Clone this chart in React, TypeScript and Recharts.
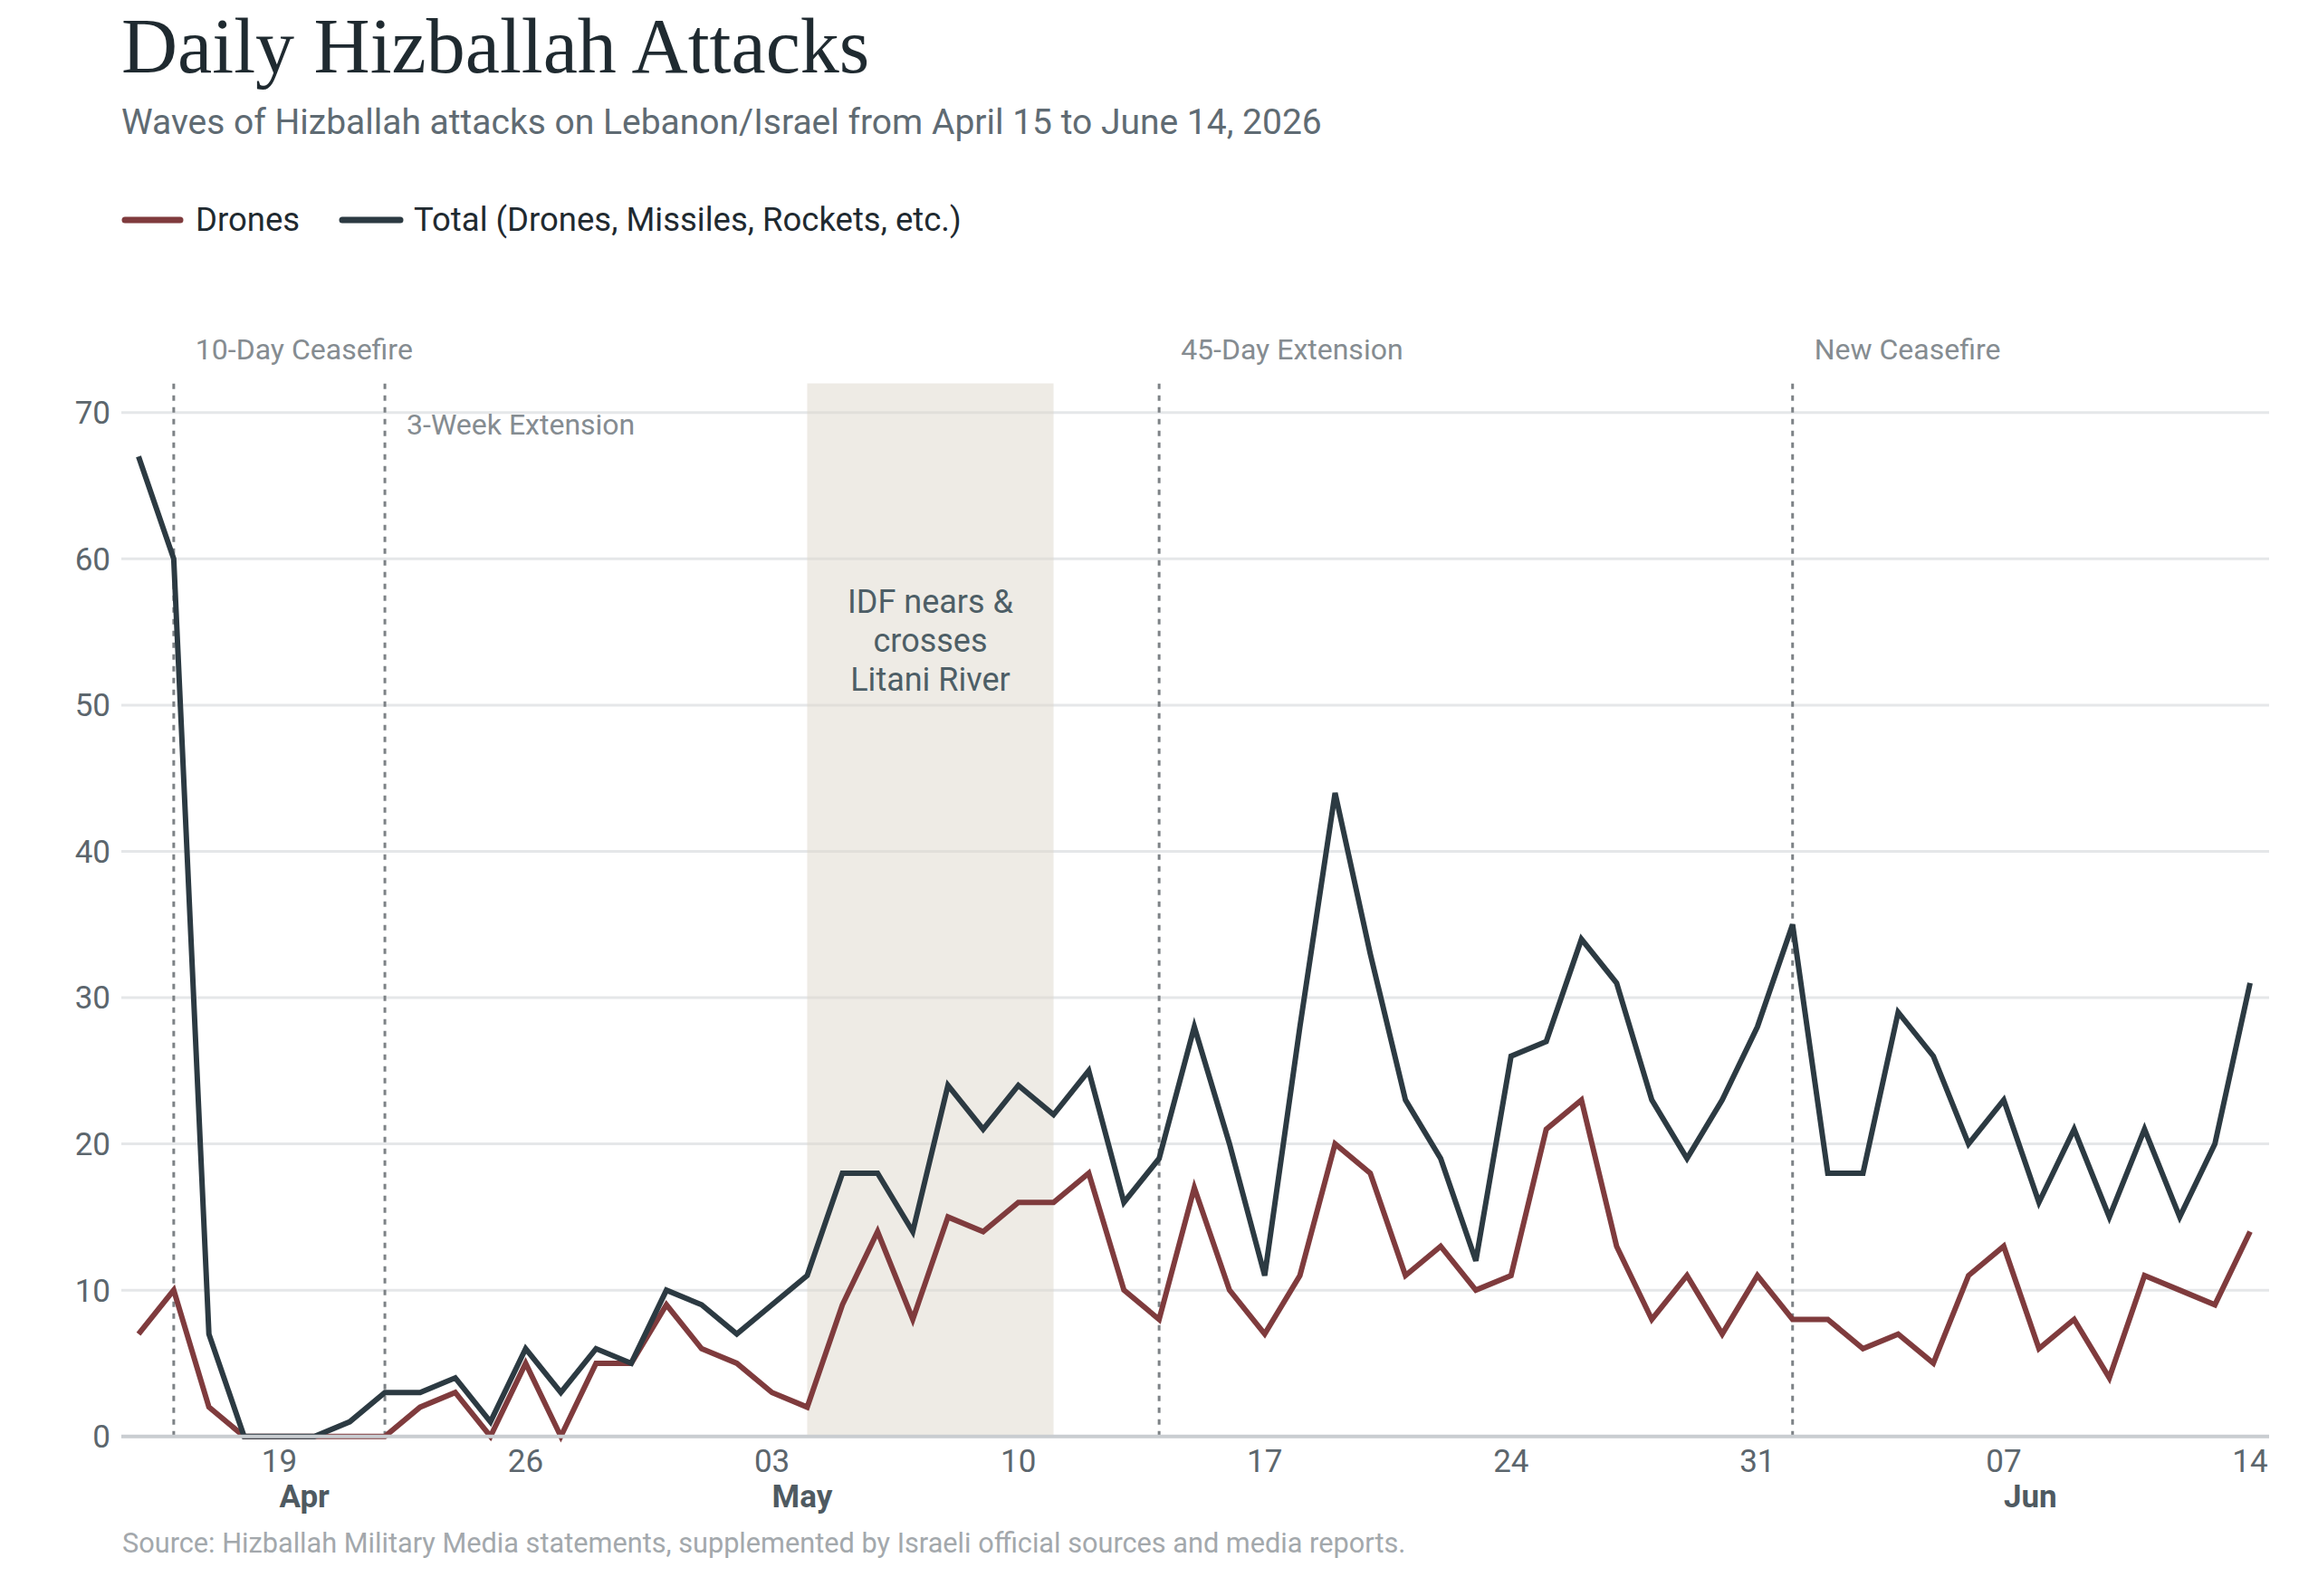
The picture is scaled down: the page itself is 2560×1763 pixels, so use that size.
import React from "react";
import {
  LineChart,
  Line,
  XAxis,
  YAxis,
  CartesianGrid,
  ReferenceLine,
  ReferenceArea,
} from "recharts";

// days from Apr 15 to Jun 14, 2026 (MM-DD)
const dates = [
  "04-15", "04-16", "04-17", "04-18", "04-19", "04-20", "04-21", "04-22",
  "04-23", "04-24", "04-25", "04-26", "04-27", "04-28", "04-29", "04-30",
  "05-01", "05-02", "05-03", "05-04", "05-05", "05-06", "05-07", "05-08",
  "05-09", "05-10", "05-11", "05-12", "05-13", "05-14", "05-15", "05-16",
  "05-17", "05-18", "05-19", "05-20", "05-21", "05-22", "05-23", "05-24",
  "05-25", "05-26", "05-27", "05-28", "05-29", "05-30", "05-31",
  "06-01", "06-02", "06-03", "06-04", "06-05", "06-06", "06-07", "06-08",
  "06-09", "06-10", "06-11", "06-12", "06-13", "06-14",
];

const drones = [
  7, 10, 2, 0, 0, 0, 0, 0, 2, 3, 0, 5, 0, 5, 5, 9,
  6, 5, 3, 2, 9, 14, 8, 15, 14, 16, 16, 18, 10, 8, 17, 10,
  7, 11, 20, 18, 11, 13, 10, 11, 21, 23, 13, 8, 11, 7, 11,
  8, 8, 6, 7, 5, 11, 13, 6, 8, 4, 11, 10, 9, 14,
];

const total = [
  67, 60, 7, 0, 0, 0, 1, 3, 3, 4, 1, 6, 3, 6, 5, 10,
  9, 7, 9, 11, 18, 18, 14, 24, 21, 24, 22, 25, 16, 19, 28, 20,
  11, 28, 44, 33, 23, 19, 12, 26, 27, 34, 31, 23, 19, 23, 28,
  35, 18, 18, 29, 26, 20, 23, 16, 21, 15, 21, 15, 20, 31,
];

const xTicks = ["04-19", "04-26", "05-03", "05-10", "05-17", "05-24", "05-31", "06-07", "06-14"];
const monthLabels: Record<string, string> = { "04-19": "Apr", "05-03": "May", "06-07": "Jun" };
const yTicks = [0, 10, 20, 30, 40, 50, 60, 70];

const events = [
  { date: "04-16", label: "10-Day Ceasefire", low: false },
  { date: "04-22", label: "3-Week Extension", low: true },
  { date: "05-14", label: "45-Day Extension", low: false },
  { date: "06-01", label: "New Ceasefire", low: false },
];

const shadeFrom = "05-04";
const shadeTo = "05-11";
const shadeLines = ["IDF nears &", "crosses", "Litani River"];

const data = dates.map((date, i) => ({ date, drones: drones[i], total: total[i] }));

const FONT = "Roboto, 'Noto Sans', sans-serif";
const DRONE_COLOR = "#7f3b3d";
const TOTAL_COLOR = "#2c3a42";

function DateTick(props: any) {
  const { x, y, payload } = props;
  const v: string = payload.value;
  const month = monthLabels[v];
  return (
    <g>
      <text x={x} y={y + 37} textAnchor="middle" fontFamily={FONT} fontSize={35} fill="#5c666d">
        {v.slice(3)}
      </text>
      {month && (
        <text x={x} y={y + 76} textAnchor="start" fontFamily={FONT} fontSize={35} fontWeight={700} fill="#4f5a61">
          {month}
        </text>
      )}
    </g>
  );
}

function EventLabel(props: any, text: string, low: boolean) {
  const vb = props.viewBox || {};
  return (
    <text
      x={vb.x + 24}
      y={vb.y + (low ? 56 : -27)}
      fontFamily={FONT}
      fontSize={32}
      fill="#858c91"
    >
      {text}
    </text>
  );
}

function ShadeLabel(props: any) {
  const vb = props.viewBox || {};
  const cx = vb.x + vb.width / 2;
  return (
    <text x={cx} y={vb.y + 253} textAnchor="middle" fontFamily={FONT} fontSize={36} fill="#4d5e66">
      {shadeLines.map((l, i) => (
        <tspan key={l} x={cx} dy={i === 0 ? 0 : 43}>
          {l}
        </tspan>
      ))}
    </text>
  );
}

export default function App() {
  return (
    <div style={{ position: "absolute", left: 0, top: 0, width: 2560, height: 1763, background: "#fff" }}>
      <LineChart
        width={2560}
        height={1763}
        data={data}
        margin={{ top: 423.5, right: 54, bottom: 96.3, left: 74 }}
      >
        <CartesianGrid vertical={false} horizontalValues={yTicks} stroke="#e5e7e9" strokeWidth={3} />
        <ReferenceArea
          x1={shadeFrom}
          x2={shadeTo}
          fill="#ded8cb"
          fillOpacity={0.5}
          stroke="none"
          label={ShadeLabel}
        />
        {events.map((e) => (
          <ReferenceLine
            key={e.date}
            x={e.date}
            stroke="#7d8286"
            strokeWidth={3}
            strokeDasharray="6 7"
            label={(p: any) => EventLabel(p, e.label, e.low)}
          />
        ))}
        <XAxis
          dataKey="date"
          ticks={xTicks}
          interval={0}
          height={80}
          padding={{ left: 19, right: 21 }}
          axisLine={{ stroke: "#c9cdd1", strokeWidth: 4 }}
          tickLine={false}
          tickSize={0}
          tick={DateTick}
        />
        <YAxis
          width={60}
          domain={[0, 72]}
          ticks={yTicks}
          axisLine={false}
          tickLine={false}
          tickSize={0}
          tickMargin={12}
          tick={{ fontFamily: FONT, fontSize: 35, fill: "#5c666d" }}
        />
        <Line
          type="linear"
          dataKey="drones"
          stroke={DRONE_COLOR}
          strokeWidth={6}
          dot={false}
          activeDot={false}
          isAnimationActive={false}
        />
        <Line
          type="linear"
          dataKey="total"
          stroke={TOTAL_COLOR}
          strokeWidth={6}
          dot={false}
          activeDot={false}
          isAnimationActive={false}
        />
      </LineChart>
      <svg
        width={2560}
        height={1763}
        style={{ position: "absolute", left: 0, top: 0, pointerEvents: "none" }}
      >
        <text x={134} y={80} fontFamily="'Liberation Serif', serif" fontSize={86} fill="#1f2a30">
          Daily Hizballah Attacks
        </text>
        <text x={134} y={148} fontFamily={FONT} fontSize={39} fill="#5f6b73">
          Waves of Hizballah attacks on Lebanon/Israel from April 15 to June 14, 2026
        </text>
        <line x1={138} y1={243} x2={199} y2={243} stroke={DRONE_COLOR} strokeWidth={7} strokeLinecap="round" />
        <text x={216} y={255} fontFamily={FONT} fontSize={36.5} fill="#1f2a30">
          Drones
        </text>
        <line x1={378} y1={243} x2={442} y2={243} stroke={TOTAL_COLOR} strokeWidth={7} strokeLinecap="round" />
        <text x={457} y={255} fontFamily={FONT} fontSize={36.5} fill="#1f2a30">
          Total (Drones, Missiles, Rockets, etc.)
        </text>
        <text x={135} y={1715} fontFamily={FONT} fontSize={30.7} fill="#a3a8ac">
          Source: Hizballah Military Media statements, supplemented by Israeli official sources and media reports.
        </text>
      </svg>
    </div>
  );
}
